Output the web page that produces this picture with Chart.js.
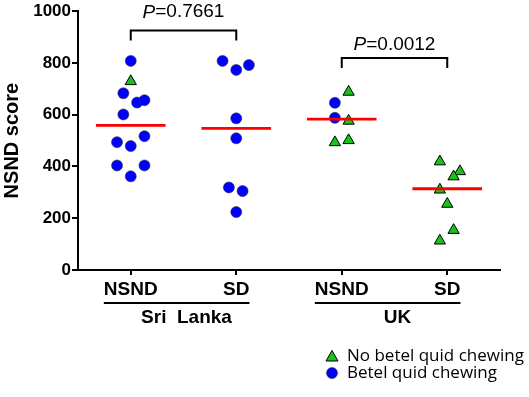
<!DOCTYPE html>
<html>
<head>
<meta charset="utf-8">
<script src="https://cdn.jsdelivr.net/npm/chart.js@4.4.1/dist/chart.umd.min.js"></script>
<style>
  html, body { margin: 0; padding: 0; background: #fff; }
</style>
</head>
<body>
<canvas id="nsnd" width="529" height="397"></canvas>
<script>
// categories
const groups = ['NSND', 'SD', 'NSND', 'SD'];
const countries = ['Sri  Lanka', 'UK'];
const yTicks = [0, 200, 400, 600, 800, 1000];

// betel quid chewing (blue circles) - score and horizontal jitter
const betelSLNSND = [808, 683, 647, 656, 601, 517, 494, 479, 404, 404, 362];
const betelSLNSNDJit = [0, -0.07, 0.06, 0.13, -0.07, 0.13, -0.13, 0, -0.13, 0.13, 0];
const betelSLSD = [808, 773, 792, 586, 509, 319, 305, 224];
const betelSLSDJit = [-0.13, 0, 0.12, 0, 0, -0.07, 0.06, 0];
const betelUKNSND = [646, 588];
const betelUKNSNDJit = [-0.065, -0.065];

// no betel quid chewing (green triangles)
const noBetelSLNSND = [729];
const noBetelSLNSNDJit = [0];
const noBetelUKNSND = [688, 576, 501, 493];
const noBetelUKNSNDJit = [0.065, 0.065, 0.065, -0.065];
const noBetelUKSD = [419, 381, 361, 310, 255, 154, 113];
const noBetelUKSDJit = [-0.07, 0.12, 0.06, -0.07, 0, 0.06, -0.07];

// group medians (red bars)
const medians = [559, 547, 583, 314];

// comparisons
const pValues = ['0.7661', '0.0012'];
const pPairs = [[1, 2], [3, 4]];

const pts = (vals, jit, pos) => vals.map((v, i) => ({x: pos + jit[i], y: v}));

const medianSets = medians.map((m, i) => ({
  type: 'line',
  data: [{x: i + 1 - 0.33, y: m}, {x: i + 1 + 0.33, y: m}],
  borderColor: '#ff0000',
  borderWidth: 2.8,
  pointRadius: 0,
  order: 0
}));

const fontAx = '"Liberation Sans", Arial, sans-serif';

//------------------------------------------

// extra drawing: country bars, p value brackets, legend
const extras = {
  id: 'extras',
  afterDraw(chart) {
    const {ctx, chartArea: {bottom, right}, scales: {x, y}} = chart;
    ctx.save();
    ctx.fillStyle = '#000';
    ctx.strokeStyle = '#000';
    ctx.lineWidth = 2;

    // country lines and names
    ctx.font = 'bold 19px ' + fontAx;
    ctx.textAlign = 'center';
    ctx.textBaseline = 'middle';
    countries.forEach((c, i) => {
      const a = i * 2 + 1, b = i * 2 + 2;
      const x1 = x.getPixelForValue(a) - ctx.measureText(groups[a - 1]).width / 2;
      const x2 = x.getPixelForValue(b) + ctx.measureText(groups[b - 1]).width / 2;
      ctx.beginPath();
      ctx.moveTo(x1, bottom + 33);
      ctx.lineTo(x2, bottom + 33);
      ctx.stroke();
      ctx.fillText(c, (x.getPixelForValue(a) + x.getPixelForValue(b)) / 2 + 3, bottom + 48);
    });

    // brackets with P values
    const levels = [925, 819];
    const textLevels = [996, 869];
    pPairs.forEach(([a, b], i) => {
      const xa = x.getPixelForValue(a), xb = x.getPixelForValue(b);
      const yy = y.getPixelForValue(levels[i]);
      ctx.beginPath();
      ctx.moveTo(xa, yy + 10);
      ctx.lineTo(xa, yy);
      ctx.lineTo(xb, yy);
      ctx.lineTo(xb, yy + 10);
      ctx.stroke();

      ctx.font = 'italic 19px ' + fontAx;
      const wP = ctx.measureText('P').width;
      ctx.font = '19px ' + fontAx;
      const rest = '=' + pValues[i];
      const wR = ctx.measureText(rest).width;
      const x0 = (xa + xb) / 2 - (wP + wR) / 2;
      const ty = y.getPixelForValue(textLevels[i]);
      ctx.textAlign = 'left';
      ctx.font = 'italic 19px ' + fontAx;
      ctx.fillText('P', x0, ty);
      ctx.font = '19px ' + fontAx;
      ctx.fillText(rest, x0 + wP, ty);
    });

    // legend
    const lx = right - 168;
    const ly1 = bottom + 86, ly2 = bottom + 103;
    ctx.lineWidth = 1;
    ctx.fillStyle = '#19c319';
    ctx.beginPath();
    ctx.moveTo(lx, ly1 - 5.5);
    ctx.lineTo(lx + 6, ly1 + 5);
    ctx.lineTo(lx - 6, ly1 + 5);
    ctx.closePath();
    ctx.fill();
    ctx.stroke();
    ctx.fillStyle = '#0000ff';
    ctx.beginPath();
    ctx.arc(lx, ly2, 5.5, 0, Math.PI * 2);
    ctx.fill();
    ctx.lineWidth = 0.6;
    ctx.strokeStyle = '#333';
    ctx.stroke();

    ctx.fillStyle = '#000';
    ctx.font = '17px "Open Sans", sans-serif';
    ctx.textAlign = 'left';
    ctx.fillText('No betel quid chewing', lx + 15, ly1);
    ctx.fillText('Betel quid chewing', lx + 15, ly2);
    ctx.restore();
  }
};

//------------------------------------------

const config = {
  type: 'scatter',
  data: {
    datasets: [
      ...medianSets,
      {
        label: 'No betel quid chewing',
        data: [
          ...pts(noBetelSLNSND, noBetelSLNSNDJit, 1),
          ...pts(noBetelUKNSND, noBetelUKNSNDJit, 3),
          ...pts(noBetelUKSD, noBetelUKSDJit, 4)
        ],
        pointStyle: 'triangle',
        pointRadius: 6.5,
        backgroundColor: '#19c319',
        borderColor: '#000',
        borderWidth: 1,
        order: 1
      },
      {
        label: 'Betel quid chewing',
        data: [
          ...pts(betelSLNSND, betelSLNSNDJit, 1),
          ...pts(betelSLSD, betelSLSDJit, 2),
          ...pts(betelUKNSND, betelUKNSNDJit, 3)
        ],
        pointStyle: 'circle',
        pointRadius: 5.5,
        backgroundColor: '#0000ff',
        borderColor: '#333',
        borderWidth: 0.6,
        order: 2
      }
    ]
  },
  options: {
    responsive: false,
    animation: false,
    layout: {padding: {top: 10, right: 29, left: 0, bottom: 0}},
    plugins: {
      legend: {display: false},
      tooltip: {enabled: false}
    },
    scales: {
      x: {
        type: 'linear',
        min: 0.5,
        max: 4.5,
        afterBuildTicks: s => { s.ticks = groups.map((g, i) => ({value: i + 1})); },
        afterFit: s => { s.height = 127; },
        ticks: {
          callback: v => groups[v - 1],
          font: {family: fontAx, size: 19, weight: 'bold'},
          color: '#000',
          padding: 3,
          maxRotation: 0,
          autoSkip: false
        },
        grid: {drawOnChartArea: false, tickLength: 5, color: '#000', lineWidth: 2},
        border: {color: '#000', width: 2}
      },
      y: {
        min: 0,
        max: 1000,
        afterBuildTicks: s => { s.ticks = yTicks.map(v => ({value: v})); },
        afterFit: s => { s.width = 78; },
        ticks: {
          callback: v => String(v),
          font: {family: fontAx, size: 17, weight: 'bold'},
          color: '#000',
          padding: 1
        },
        grid: {drawOnChartArea: false, tickLength: 6, color: '#000', lineWidth: 2},
        border: {color: '#000', width: 2},
        title: {
          display: true,
          text: 'NSND score',
          font: {family: fontAx, size: 20, weight: 'bold'},
          color: '#000',
          padding: 0
        }
      }
    }
  },
  plugins: [extras]
};

const chart = new Chart(document.getElementById('nsnd'), config);
</script>
</body>
</html>
